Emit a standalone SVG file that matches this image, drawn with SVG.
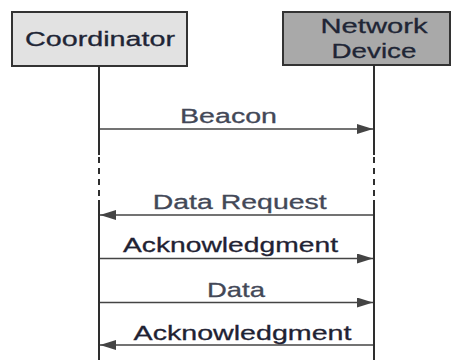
<svg xmlns="http://www.w3.org/2000/svg" width="452" height="360" viewBox="0 0 452 360">
<defs>
<style>
.box{stroke:#333;stroke-width:2}
.t{font-family:"Liberation Sans",Arial,sans-serif;font-size:21px;text-anchor:middle;stroke-width:0.3}
.lbl{fill:#434857;stroke:#434857}
.ack{fill:#1f2233;stroke:#1f2233}
.hd{fill:#202535;stroke:#202535}
.life{stroke:#2e2e2e;stroke-width:2;fill:none}
.msg{stroke:#444;stroke-width:1.6;fill:none}
</style>
<marker id="ah" viewBox="0 0 16 10" refX="16" refY="5" markerWidth="16" markerHeight="10" markerUnits="userSpaceOnUse" orient="auto">
<path d="M0,0 L16,5 L0,10 z" fill="#444"/>
</marker>
</defs>
<rect width="452" height="360" fill="#fff"/>
<g id="coordinator">
<rect class="box" x="12" y="12" width="175" height="54" fill="#e2e2e2"/>
<text class="t hd" transform="translate(100,45.5) scale(1.367,1)">Coordinator</text>
</g>
<g id="network-device">
<rect class="box" x="283" y="12" width="167" height="53" fill="#a9a9a9"/>
<text class="t hd" transform="translate(374,33) scale(1.39,1)">Network</text>
<text class="t hd" transform="translate(374,58) scale(1.324,1)">Device</text>
</g>
<g id="lifelines">
<path class="life" d="M99,66 V155 M99,200 V360 M374,65 V155 M374,200 V360"/>
<path class="life" d="M99,157 V200 M374,157 V200" stroke-dasharray="6,5"/>
</g>
<g id="connectors">
<line class="msg" x1="100" y1="129" x2="373" y2="129" marker-end="url(#ah)"/>
<line class="msg" x1="373" y1="215" x2="100" y2="215" marker-end="url(#ah)"/>
<line class="msg" x1="100" y1="258.5" x2="373" y2="258.5" marker-end="url(#ah)"/>
<line class="msg" x1="100" y1="302.5" x2="373" y2="302.5" marker-end="url(#ah)"/>
<line class="msg" x1="373" y1="345" x2="100" y2="345" marker-end="url(#ah)"/>
</g>
<g id="labels">
<text class="t lbl" transform="translate(228.5,122.5) scale(1.362,1)">Beacon</text>
<text class="t lbl" transform="translate(239.7,209.3) scale(1.355,1)">Data Request</text>
<text class="t ack" transform="translate(230.5,251.7) scale(1.345,1)">Acknowledgment</text>
<text class="t lbl" transform="translate(236,296.7) scale(1.308,1)">Data</text>
<text class="t ack" transform="translate(242.5,340) scale(1.363,1)">Acknowledgment</text>
</g>
</svg>
